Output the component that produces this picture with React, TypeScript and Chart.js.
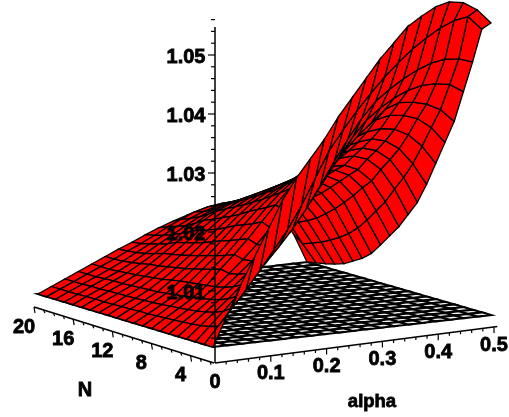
import React, { useEffect, useRef } from "react";
import { Chart, registerables } from "chart.js";

Chart.register(...registerables);

// Height of the surface above 1, in thousandths, for each N (rows) and alpha (columns)
const alphaValues = [0, .025, .05, .075, .1, .125, .15, .175, .2, .225, .25, .275, .3, .325, .35, .375, .4, .425, .45, .475, .5];
const nValues = [0, 1, 2, 3, 4, 5, 6, 7, 8, 9, 10, 11, 12, 13, 14, 15, 16, 17, 18, 19, 20];
const N0 = [0, 5, 10, 14.5, 19, 23.5, 27, 30, 33, 36.5, 39.5, 42.5, 45.5, 48, 50.5, 52, 53.3, 53.9, 53.5, 52, 49.5];
const N1 = [0, 2.8, 5.6, 8.4, 11.4, 14.6, 17.8, 21.6, 26, 30.4, 33.6, 36.6, 39.3, 41.8, 44, 46, 47.6, 49, 50, 50.4, 48];
const N2 = [0, 2.3, 4.6, 6.9, 9.3, 11.8, 14.4, 17.2, 20.4, 24, 27.8, 31.4, 34.6, 37.2, 39, 40.5, 41.7, 42.6, 43, 42.8, 42];
const N3 = [0, 2, 4, 6, 8.1, 10.3, 12.7, 15.2, 18, 21, 24.4, 27.8, 31, 33.6, 35.4, 36.8, 37.8, 38.4, 38.4, 38, 36.5];
const N4 = [0, 1.8, 3.6, 5.4, 7.3, 9.3, 11.4, 13.7, 16.3, 19, 22, 25.2, 28, 30.4, 32.4, 34.4, 35.3, 35.1, 34.5, 33.3, 31];
const N5 = [0, 1.7, 3.3, 5, 6.8, 8.7, 10.7, 13, 15.6, 18.4, 21.3, 24.2, 26.9, 29.2, 31, 32.2, 32.7, 32.4, 31.6, 29.8, 27];
const N6 = [0, 1.6, 3.1, 4.7, 6.4, 8.4, 10.5, 12.8, 15.3, 18, 20.8, 23.4, 25.8, 27.6, 28.9, 29.7, 30, 29.6, 28.4, 26.2, 23];
const N7 = [0, 1.5, 2.9, 4.4, 6.2, 8.7, 10.9, 13.3, 15.9, 18.5, 20.9, 23, 24.7, 26, 27, 27.5, 27.8, 27.2, 25.6, 22.8, 19];
const N8 = [0, 1.4, 2.8, 4.2, 6, 8.2, 10.3, 12.7, 15.1, 17.6, 19.8, 21.7, 23.3, 24.5, 25.2, 25.6, 25.8, 25.1, 23.3, 20, 15.5];
const N9 = [0, 1.3, 2.6, 4, 5.8, 7.8, 9.8, 12.1, 14.5, 16.8, 18.8, 20.4, 21.8, 22.9, 23.5, 23.9, 24, 23.2, 21.2, 17.6, 13];
const N10 = [0, 1.3, 2.5, 3.8, 5.6, 7.4, 9.4, 11.6, 13.9, 16, 17.8, 19.2, 20.3, 21.2, 21.8, 22, 22, 21, 18.8, 15, 10.5];
const N11 = [0, 1.2, 2.4, 3.6, 5.3, 7, 8.9, 11, 13.1, 15.1, 16.9, 18.3, 19.3, 20.1, 20.6, 20.8, 20.7, 19.6, 17.2, 13, 8.5];
const N12 = [0, 1.2, 2.3, 3.5, 5, 6.7, 8.5, 10.4, 12.4, 14.3, 16, 17.3, 18.3, 19, 19.4, 19.5, 19.3, 18.1, 15.4, 11, 6.5];
const N13 = [0, 1.1, 2.3, 3.4, 4.8, 6.4, 8.1, 9.9, 11.8, 13.6, 15.2, 16.4, 17.3, 17.9, 18.2, 18.2, 17.9, 16.6, 13.8, 9.2, 4.6];
const N14 = [0, 1.1, 2.2, 3.3, 4.6, 6.1, 7.8, 9.5, 11.3, 12.9, 14.4, 15.5, 16.3, 16.8, 17, 17, 16.6, 15.2, 12.3, 7.8, 3.3];
const N15 = [0, 1.1, 2.2, 3.2, 4.4, 5.9, 7.5, 9.1, 10.7, 12.3, 13.6, 14.6, 15.3, 15.7, 15.9, 15.8, 15.4, 14, 11, 6.7, 2.4];
const N16 = [0, 1.1, 2.1, 3.2, 4.3, 5.6, 7, 8.4, 9.9, 11.3, 12.6, 13.6, 14.3, 14.7, 14.8, 14.7, 14.2, 12.8, 9.8, 5.8, 1.5];
const N17 = [0, 1, 2.1, 3.1, 4.1, 5.3, 6.6, 7.9, 9.2, 10.5, 11.7, 12.6, 13.4, 13.8, 13.9, 13.8, 13.3, 11.8, 8.9, 5, 1];
const N18 = [0, 1, 2, 3, 4, 5.1, 6.3, 7.5, 8.7, 9.9, 11, 11.9, 12.6, 13, 13.1, 13, 12.4, 11, 8.2, 4.4, .6];
const N19 = [0, 1, 2, 3, 4, 5, 6.1, 7.1, 8.2, 9.4, 10.4, 11.4, 12, 12.3, 12.4, 12.2, 11.6, 10.2, 7.6, 3.8, .3];
const N20 = [0, 1, 2, 3, 4, 5, 6, 6.9, 7.9, 8.8, 9.6, 10.3, 10.9, 11.3, 11.6, 11.7, 11.5, 10.5, 8.5, 5, 0];
const surfaceRows = [N0, N1, N2, N3, N4, N5, N6, N7, N8, N9, N10, N11, N12, N13, N14, N15, N16, N17, N18, N19, N20];

const zTickLabels = ["1.01", "1.02", "1.03", "1.04", "1.05"];
const nTickLabels = ["4", "8", "12", "16", "20"];
const alphaTickLabels = ["0.1", "0.2", "0.3", "0.4", "0.5"];

// Fixed oblique view of the (alpha, N, z) box, giving values on the x and y scales
const project = (alpha: number, n: number, z: number) => {
  const a = alpha / 0.5, b = n / 20;
  return { x: 213 + 278 * a - 175 * b - 9 * a * b, y: 347 - 32 * a - 53 * b - 5900 * (z - 1) };
};
const zScaleY = (z: number) => 350 - 5900 * (z - 1);
const nAxis = (n: number) => {
  const t = (n - 1.6) / 18.4;
  return { x: 214 - 180 * t, y: 363 - 56 * t };
};
const alphaAxis = (al: number) => ({ x: 215 + 279 * (al / 0.5), y: 363 - 36 * (al / 0.5) });

const RED = "#ff0000";

function quad(i: number, j: number, height: (i: number, j: number) => number) {
  const p = (ii: number, jj: number) => project(alphaValues[jj], nValues[ii], 1 + height(ii, jj) / 1000);
  return [p(i, j), p(i, j + 1), p(i + 1, j + 1), p(i + 1, j), p(i, j)];
}

const lineSet = (data: { x: number; y: number }[], width = 1.5) => ({
  type: "line", data, borderColor: "#000", borderWidth: width, pointRadius: 0, tension: 0, fill: false, clip: false,
});

const quadFill = {
  id: "quadFill",
  beforeDatasetDraw(chart: any, args: any) {
    const ds = chart.data.datasets[args.index];
    if (!ds.faceColor) return;
    const pts = chart.getDatasetMeta(args.index).data;
    const ctx = chart.ctx;
    ctx.save();
    ctx.beginPath();
    pts.forEach((pt: any, k: number) => (k ? ctx.lineTo(pt.x, pt.y) : ctx.moveTo(pt.x, pt.y)));
    ctx.closePath();
    ctx.fillStyle = ds.faceColor;
    ctx.fill();
    ctx.restore();
  },
};

const axisText = {
  id: "axisText",
  afterDatasetsDraw(chart: any) {
    const { ctx, scales } = chart;
    const put = (t: string, x: number, y: number, font = 'bold 20px "Liberation Sans"') => {
      ctx.font = font;
      const px = scales.x.getPixelForValue(x), py = scales.y.getPixelForValue(y);
      ctx.fillText(t, px, py);
      ctx.strokeText(t, px, py);
    };
    ctx.save();
    ctx.fillStyle = "#000";
    ctx.strokeStyle = "#000";
    ctx.lineWidth = 0.8;
    ctx.textAlign = "center";
    ctx.textBaseline = "middle";
    zTickLabels.forEach((t) => put(t, 186, zScaleY(Number(t)) + 2));
    nTickLabels.forEach((t) => {
      const p = nAxis(Number(t));
      put(t, p.x - 10, p.y + 20);
    });
    alphaTickLabels.forEach((t) => {
      const p = alphaAxis(Number(t));
      put(t, p.x, p.y + 18);
    });
    put("0", 215, 382);
    put("N", 85, 390);
    put("alpha", 372, 402, 'bold 18.5px "Liberation Sans"');
    ctx.restore();
  },
};

export default function App() {
  const ref = useRef<HTMLCanvasElement>(null);
  useEffect(() => {
    const surfaceQuads: any[] = [];
    const planeQuads: any[] = [];
    for (let i = 0; i < nValues.length - 1; i++) {
      for (let j = 0; j < alphaValues.length - 1; j++) {
        const depth = 0.386 * j + 0.614 * i;
        surfaceQuads.push({ depth, set: { ...lineSet(quad(i, j, (a, b) => surfaceRows[a][b]), 1.3), faceColor: RED } });
        planeQuads.push({ depth, set: { ...lineSet(quad(i, j, () => 0), 2.1), faceColor: "#eeeeee" } });
      }
    }
    const ordered = (list: any[]) => list.sort((p, q) => p.depth - q.depth).map((e) => e.set);

    const axes: any[] = [];
    axes.push(lineSet([{ x: 215, y: 27 }, { x: 215, y: 363 }]));
    axes.push(lineSet([{ x: 214, y: 363 }, { x: 34, y: 307 }]));
    axes.push(lineSet([alphaAxis(0), alphaAxis(0.506)]));
    for (let k = 1; k <= 28; k++) {
      const z = 1 + k * 0.002;
      const major = k % 5 === 0;
      axes.push(lineSet([{ x: 215, y: zScaleY(z) }, { x: major ? 208 : 211, y: zScaleY(z) }], 1.2));
    }
    for (let n = 2; n <= 20; n++) {
      const p = nAxis(n);
      axes.push(lineSet([p, { x: p.x + 1, y: p.y + (n % 4 === 0 ? 6 : 3) }], 1.2));
    }
    for (let k = 1; k <= 25; k++) {
      const p = alphaAxis(k * 0.02);
      axes.push(lineSet([p, { x: p.x, y: p.y + (k % 5 === 0 ? 6 : 3) }], 1.2));
    }

    // Chart.js paints the first dataset last, so the list runs front to back.
    const datasets = [...axes, ...ordered(surfaceQuads), ...ordered(planeQuads)];
    const chart = new Chart(ref.current!, {
      type: "scatter",
      data: { datasets: datasets as any },
      plugins: [quadFill, axisText],
      options: {
        animation: false,
        responsive: false,
        events: [],
        layout: { padding: 0 },
        plugins: { legend: { display: false }, tooltip: { enabled: false } },
        scales: {
          x: { type: "linear", min: 0, max: 509, display: false },
          y: { type: "linear", min: 0, max: 417, reverse: true, display: false },
        },
      } as any,
    });
    return () => chart.destroy();
  }, []);
  return (
    <div style={{ position: "fixed", left: 0, top: 0, width: 509, height: 417, background: "#fff" }}>
      <canvas ref={ref} width={509} height={417} style={{ display: "block", filter: "blur(0.35px)" }} />
    </div>
  );
}
